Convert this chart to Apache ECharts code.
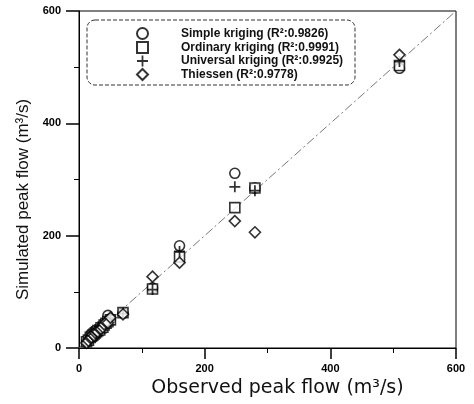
<!DOCTYPE html>
<html>
<head>
<meta charset="utf-8">
<script src="https://cdn.jsdelivr.net/npm/echarts@6/dist/echarts.min.js"></script>
<style>
html,body{margin:0;padding:0;background:#fff;}
#chart{width:474px;height:404px;}
</style>
</head>
<body>
<div id="chart"></div>
<script>
// Observed peak flow (m3/s)
var observed = [12, 15, 18, 20, 22, 24, 26, 28, 30, 33, 35, 38, 40, 43, 46, 50, 70, 117, 160, 248, 280, 510];
// Simulated peak flow per method
var simpleKriging = [10, 16, 20, 22, 21, 27, 25, 31, 30, 35, 33, 40, 44, 45, 58, 52, 62, 107, 182, 311, 285, 498];
var ordinaryKriging = [11, 14, 19, 21, 23, 25, 27, 29, 31, 32, 36, 37, 41, 44, 47, 50, 63, 105, 162, 250, 285, 503];
var universalKriging = [12, 15, 17, 22, 22, 24, 28, 27, 32, 33, 36, 39, 40, 42, 50, 53, 61, 104, 172, 287, 280, 510];
var thiessen = [9, 13, 18, 19, 24, 22, 27, 30, 29, 34, 34, 37, 42, 46, 45, 54, 60, 127, 152, 226, 206, 522];
var seriesNames = ['Simple kriging (R²:0.9826)', 'Ordinary kriging (R²:0.9991)', 'Universal kriging (R²:0.9925)', 'Thiessen (R²:0.9778)'];
var tickValues = [0, 200, 400, 600];
var lineEnds = [0, 600];

function pairs(ys) { return observed.map(function (x, i) { return [x, ys[i]]; }); }

var hollow = { color: '#fff', borderColor: '#000', borderWidth: 1.6 };
var plusPath = 'path://M4.2,0H5.8V4.2H10V5.8H5.8V10H4.2V5.8H0V4.2H4.2Z';

var chart = echarts.init(document.getElementById('chart'), null, { renderer: 'canvas' });
function makeAxis(tickLen, labelMargin) {
  return {
    type: 'value',
    min: tickValues[0], max: tickValues[tickValues.length - 1], interval: 200,
    axisLine: { show: true, onZero: false, lineStyle: { color: '#000', width: 1 } },
    axisTick: { show: true, inside: false, interval: 0, length: tickLen, lineStyle: { color: '#000', width: 1.5 } },
    minorTick: { show: true, splitNumber: 2, length: 5, lineStyle: { color: '#000', width: 1 } },
    splitLine: { show: false },
    axisLabel: { color: '#000', fontFamily: 'Liberation Sans', fontWeight: 'bold', fontSize: 11, margin: labelMargin }
  };
}
var xAxis = makeAxis(11, 15);
xAxis.name = 'Observed peak flow (m³/s)';
xAxis.nameLocation = 'middle';
xAxis.nameGap = 27;
xAxis.nameTextStyle = { fontFamily: 'DejaVu Sans', fontSize: 19, color: '#111', padding: [0, 0, 0, 20] };
var yAxis = makeAxis(13, 18);
yAxis.name = 'Simulated peak flow (m³/s)';
yAxis.nameLocation = 'middle';
yAxis.nameGap = 42;
yAxis.nameTextStyle = { fontFamily: 'Liberation Sans', fontSize: 17, color: '#111', padding: [0, 40, 0, 0] };

chart.setOption({
  animation: false,
  backgroundColor: '#fff',
  grid: { left: 79, top: 11, right: 18, bottom: 56, show: true, borderColor: '#000', borderWidth: 1, backgroundColor: 'transparent' },
  xAxis: xAxis,
  yAxis: yAxis,
  graphic: [{
    type: 'rect', z: 10, silent: true,
    shape: { x: 87, y: 20, width: 268, height: 65, r: 8 },
    style: { fill: 'rgba(0,0,0,0)', stroke: '#333', lineWidth: 1, lineDash: [4, 2] }
  }],
  legend: {
    data: seriesNames, orient: 'vertical', left: 131, top: 22,
    itemWidth: 11, itemHeight: 11, itemGap: 1, selectedMode: false,
    textStyle: { fontFamily: 'Liberation Sans', fontSize: 12, fontWeight: 'bold', color: '#111', padding: [0, 0, 0, 28] }
  },
  series: [
    { type: 'line', name: '1:1', data: [[lineEnds[0], lineEnds[0]], [lineEnds[1], lineEnds[1]]], symbol: 'none', silent: true,
      lineStyle: { color: '#555', width: 0.8, type: [9, 3, 2, 3] }, z: 1 },
    { type: 'scatter', name: seriesNames[0], data: pairs(simpleKriging), symbol: 'circle', symbolSize: 10, itemStyle: hollow },
    { type: 'scatter', name: seriesNames[1], data: pairs(ordinaryKriging), symbol: 'rect', symbolSize: 10, itemStyle: hollow },
    { type: 'scatter', name: seriesNames[2], data: pairs(universalKriging), symbol: plusPath, symbolSize: 11, itemStyle: { color: '#000' } },
    { type: 'scatter', name: seriesNames[3], data: pairs(thiessen), symbol: 'diamond', symbolSize: 11, itemStyle: hollow }
  ]
});
</script>
</body>
</html>
